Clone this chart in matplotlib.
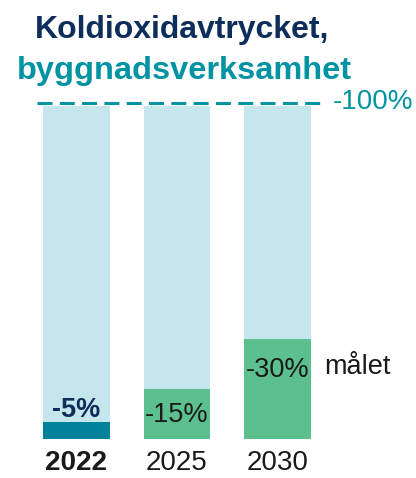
import matplotlib.pyplot as plt

plt.rcParams['font.family'] = ['Liberation Sans', 'DejaVu Sans']

years = ['2022', '2025', '2030']
reductions = [5, 15, 30]
target = 100
bar_colors = ['#00829b', '#5cbf8e', '#5cbf8e']

fig = plt.figure(figsize=(4.16, 4.78), dpi=100)
ax = fig.add_axes([0, 0, 1, 1])
ax.set_xlim(-0.761, 3.378)
ax.set_ylim(-11.7, 131.8)
ax.axis('off')

x = range(len(years))
width = 0.66
ax.bar(x, [target] * len(years), width=width, color='#c5e6ec', zorder=1)
ax.bar(x, reductions, width=width, color=bar_colors, zorder=2)

# target line
ax.plot([-0.39, 2.45], [target + 1, target + 1], color='#0093a3', lw=2.2,
        dashes=(4.9, 2.4), zorder=3)
ax.text(2.55, target + 1.3, f'-{target}%', color='#0093a3', fontsize=20,
        va='center', ha='left')

# value labels
ax.text(0, reductions[0] + 3.7, f'-{reductions[0]}%', color='#0d2d5a',
        fontsize=19.5, fontweight='bold', ha='center', va='center')
ax.text(1, reductions[1] - 7.8, f'-{reductions[1]}%', color='#1a1a1a',
        fontsize=19.5, ha='center', va='center')
ax.text(2, reductions[2] - 9.3, f'-{reductions[2]}%', color='#1a1a1a',
        fontsize=19.5, ha='center', va='center')
ax.text(2.46, reductions[2] - 8.4, 'målet', color='#1a1a1a', fontsize=19.5,
        ha='left', va='center')

for i, yr in enumerate(years):
    ax.text(i, -7.2, yr, color='#1a1a1a', fontsize=20, ha='center', va='center',
            fontweight='bold' if i == 0 else 'normal')

fig.text(35 / 416, 1 - 38 / 478, 'Koldioxidavtrycket,', color='#0d2d5a',
         fontsize=23, fontweight='bold', ha='left', va='baseline')
fig.text(17 / 416, 1 - 79 / 478, 'byggnadsverksamhet', color='#0093a3',
         fontsize=23.4, fontweight='bold', ha='left', va='baseline')

fig.savefig('out.png', dpi=100)
